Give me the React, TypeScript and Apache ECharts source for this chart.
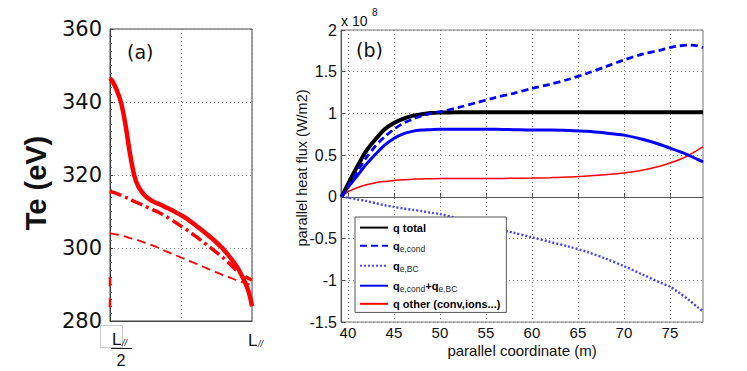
import React, { useEffect, useRef } from "react";
import * as echarts from "echarts";

// ---- Panel (a): Te along the field line (0 = L/2, 1 = L) ----
const xA = [0, 0.02, 0.05, 0.08, 0.11, 0.14, 0.17, 0.2, 0.25, 0.3, 0.35, 0.4, 0.45, 0.5, 0.55, 0.6, 0.65, 0.7, 0.75, 0.8, 0.85, 0.9, 0.94, 0.97, 0.99, 1.0];
const teSolid = [346.5, 345.5, 343, 339.5, 333.5, 326, 320, 316.8, 314.2, 312.8, 312, 311, 310.1, 309, 307.8, 306.3, 304.8, 303.2, 301.5, 299.6, 297.2, 294.5, 291.5, 288.8, 286, 284];
const teDashDot = [315.5, 315.3, 314.9, 314.4, 313.9, 313.4, 312.8, 312.3, 311.4, 310.5, 309.6, 308.5, 307.3, 306, 304.7, 303.3, 301.8, 300.3, 298.8, 297.2, 295.4, 293.6, 292.5, 291.8, 291.4, 291.2];
const teDashed = [304, 303.9, 303.7, 303.4, 303.1, 302.7, 302.4, 302.1, 301.4, 300.7, 299.9, 299, 298.2, 297.4, 296.6, 295.8, 295, 294.1, 293.3, 292.5, 291.8, 291, 290.5, 290.2, 289.9, 289.8];
const edgeX = [0, 0];
const edgeY = [292, 283];

// ---- Panel (b): parallel heat flux (x 1e8 W/m2) ----
const xB = [39.3, 40, 41, 42, 43, 44, 45, 46, 47, 48, 49, 50, 52, 54, 56, 58, 60, 62, 64, 66, 68, 70, 72, 74, 75, 76, 77, 78, 78.6];
const qTotal = [0, 0.15, 0.36, 0.55, 0.69, 0.81, 0.885, 0.935, 0.97, 0.99, 1.005, 1.01, 1.015, 1.015, 1.015, 1.015, 1.015, 1.015, 1.015, 1.015, 1.015, 1.015, 1.015, 1.015, 1.015, 1.015, 1.015, 1.015, 1.015];
const qeCond = [0, 0.12, 0.3, 0.47, 0.61, 0.72, 0.81, 0.88, 0.93, 0.97, 1.0, 1.02, 1.07, 1.13, 1.19, 1.24, 1.3, 1.35, 1.41, 1.48, 1.56, 1.64, 1.71, 1.76, 1.79, 1.81, 1.82, 1.81, 1.79];
const qeBC = [0, -0.01, -0.03, -0.05, -0.075, -0.1, -0.12, -0.14, -0.155, -0.17, -0.19, -0.205, -0.26, -0.315, -0.375, -0.43, -0.485, -0.54, -0.595, -0.66, -0.74, -0.83, -0.93, -1.03, -1.075, -1.15, -1.23, -1.32, -1.37];
const qSum = [0, 0.11, 0.25, 0.39, 0.51, 0.62, 0.7, 0.755, 0.785, 0.8, 0.805, 0.81, 0.81, 0.81, 0.81, 0.805, 0.8, 0.8, 0.795, 0.785, 0.765, 0.74, 0.69, 0.625, 0.585, 0.545, 0.5, 0.45, 0.42];
const qOther = [0, 0.06, 0.11, 0.145, 0.17, 0.185, 0.197, 0.205, 0.21, 0.215, 0.218, 0.22, 0.22, 0.22, 0.221, 0.222, 0.225, 0.23, 0.237, 0.25, 0.265, 0.285, 0.32, 0.37, 0.405, 0.445, 0.495, 0.56, 0.6];
const xTicksB = [40, 45, 50, 55, 60, 65, 70, 75];

const seriesNames = ["q total", "qe,cond", "qe,BC", "qe,cond+qe,BC", "q other (conv,ions...)"];
const legendRich: Record<string, string> = {
  "q total": "{b|q total}",
  "qe,cond": "{b|q}{s|e,cond}",
  "qe,BC": "{b|q}{s|e,BC}",
  "qe,cond+qe,BC": "{b|q}{s|e,cond}{b|+q}{s|e,BC}",
  "q other (conv,ions...)": "{b|q other (conv,ions...)}",
};

const FONT = "Liberation Sans, Arial, sans-serif";

function pairs(xs: number[], ys: number[]) {
  return xs.map((x, i) => [x, ys[i]]);
}

export default function App() {
  const ref = useRef<HTMLDivElement>(null);
  useEffect(() => {
    if (!ref.current) return;
    const chart = echarts.init(ref.current, null, { renderer: "svg" });
    const dotted = { type: [1, 3] as any, color: "#888", width: 1 };
    const option: any = {
      animation: false,
      backgroundColor: "#fff",
      grid: [
        { left: 110, top: 29, width: 142, height: 292, show: true, borderColor: "#444", borderWidth: 1, backgroundColor: "transparent" },
        { left: 341, top: 30, width: 362, height: 292, show: true, borderColor: "#777", borderWidth: 1, backgroundColor: "transparent" },
      ],
      xAxis: [
        {
          gridIndex: 0, type: "value", min: 0, max: 1, interval: 0.5,
          axisLine: { show: true, lineStyle: { color: "#444" } },
          axisTick: { show: false },
          axisLabel: { show: false },
          splitLine: { show: true, lineStyle: dotted },
        },
        {
          gridIndex: 1, type: "value", min: 39.25, max: 78.6,
          axisLine: { show: true, lineStyle: { color: "#555" } },
          axisTick: { show: true, inside: true, length: 4, customValues: xTicksB, lineStyle: { color: "#555" } },
          axisLabel: { show: true, customValues: xTicksB, fontSize: 15, lineHeight: 15, color: "#111", fontFamily: FONT, margin: 3 },
          splitLine: { show: true, lineStyle: dotted },
        },
      ],
      yAxis: [
        {
          gridIndex: 0, type: "value", min: 280, max: 360, interval: 20,
          axisLine: { show: true, lineStyle: { color: "#444" } },
          axisTick: { show: true, inside: true, length: 3, lineStyle: { color: "#444" } },
          minorTick: { show: true, splitNumber: 10, length: 2, lineStyle: { color: "#666" } },
          axisLabel: {
            show: true, margin: 8,
            formatter: "{t|{value}}",
            rich: { t: { fontSize: 21, color: "#111", fontFamily: "DejaVu Sans", lineHeight: 22 } },
          },
          splitLine: { show: true, lineStyle: dotted },
        },
        {
          gridIndex: 1, type: "value", min: -1.5, max: 2, interval: 0.5,
          axisLine: { show: true, lineStyle: { color: "#555" } },
          axisTick: { show: true, inside: true, length: 4, lineStyle: { color: "#555" } },
          axisLabel: { fontSize: 16, color: "#111", fontFamily: FONT, margin: 4, formatter: (v: number) => String(v) },
          splitLine: { show: true, lineStyle: dotted },
        },
      ],
      legend: {
        data: seriesNames,
        orient: "vertical",
        left: 355,
        top: 217,
        backgroundColor: "#fff",
        borderColor: "#555",
        borderWidth: 1,
        borderRadius: 0,
        padding: [5, 6, 3, 4],
        itemGap: 5,
        itemWidth: 28,
        itemHeight: 14,
        selectedMode: false,
        itemStyle: { opacity: 0 },
        formatter: (name: string) => legendRich[name] || name,
        textStyle: {
          fontFamily: FONT,
          color: "#000",
          rich: {
            b: { fontSize: 11, fontWeight: "bold", color: "#000", fontFamily: FONT, lineHeight: 15, verticalAlign: "middle" },
            s: { fontSize: 8.5, color: "#222", fontFamily: FONT, lineHeight: 15, verticalAlign: "bottom", padding: [6, 0, 0, 0] },
          },
        },
      },
      series: [
        { name: "Te solid", type: "line", xAxisIndex: 0, yAxisIndex: 0, data: pairs(xA, teSolid), smooth: 0.3, showSymbol: false, symbol: "none", lineStyle: { color: "#ff0000", width: 4.5 } },
        { name: "Te dashdot", type: "line", xAxisIndex: 0, yAxisIndex: 0, data: pairs(xA, teDashDot), smooth: 0.3, showSymbol: false, symbol: "none", lineStyle: { color: "#ff0000", width: 3.5, type: [12, 4, 3, 4] } },
        { name: "Te dashed", type: "line", xAxisIndex: 0, yAxisIndex: 0, data: pairs(xA, teDashed), smooth: 0.3, showSymbol: false, symbol: "none", lineStyle: { color: "#ff0000", width: 1.8, type: [9, 5] } },
        { name: "Te edge", type: "line", xAxisIndex: 0, yAxisIndex: 0, data: pairs(edgeX, edgeY), showSymbol: false, symbol: "none", clip: false, lineStyle: { color: "#ff0000", width: 2.5, type: [9, 12] } },

        { name: "q other (conv,ions...)", type: "line", xAxisIndex: 1, yAxisIndex: 1, data: pairs(xB, qOther), smooth: 0.3, symbol: "none", lineStyle: { color: "#ff0000", width: 1.5 }, itemStyle: { color: "#ff0000" }, z: 2 },
        { name: "qe,BC", type: "line", xAxisIndex: 1, yAxisIndex: 1, data: pairs(xB, qeBC), smooth: 0.3, symbol: "none", lineStyle: { color: "#4545ff", width: 2.4, type: [2, 2] }, itemStyle: { color: "#4545ff" }, z: 3 },
        { name: "qe,cond+qe,BC", type: "line", xAxisIndex: 1, yAxisIndex: 1, data: pairs(xB, qSum), smooth: 0.3, symbol: "none", lineStyle: { color: "#0000ff", width: 3 }, itemStyle: { color: "#0000ff" }, z: 4 },
        { name: "q total", type: "line", xAxisIndex: 1, yAxisIndex: 1, data: pairs(xB, qTotal), smooth: 0.3, symbol: "none", lineStyle: { color: "#000000", width: 4 }, itemStyle: { color: "#000" }, z: 5 },
        { name: "qe,cond", type: "line", xAxisIndex: 1, yAxisIndex: 1, data: pairs(xB, qeCond), smooth: 0.3, symbol: "none", lineStyle: { color: "#0000ff", width: 2.8, type: [7, 4] }, itemStyle: { color: "#0000ff" }, z: 6 },
      ],
      graphic: [
        { type: "text", left: 127, top: 42, style: { text: "(a)", fontSize: 19, fontFamily: "DejaVu Sans, sans-serif", fill: "#111" } },
        { type: "text", left: 356, top: 40, style: { text: "(b)", fontSize: 19, fontFamily: "DejaVu Sans, sans-serif", fill: "#111" } },
        { type: "text", x: 36, y: 183, rotation: Math.PI / 2, style: { text: "Te (eV)", fontSize: 29, fontWeight: "bold", fontFamily: FONT, fill: "#111", align: "center", verticalAlign: "middle" } },
        { type: "text", x: 302, y: 168, rotation: Math.PI / 2, style: { text: "parallel heat flux (W/m2)", fontSize: 14.5, fontFamily: FONT, fill: "#111", align: "center", verticalAlign: "middle" } },
        { type: "text", x: 522, y: 350, style: { text: "parallel coordinate (m)", fontSize: 15, fontFamily: FONT, fill: "#111", align: "center", verticalAlign: "middle" } },
        { type: "text", x: 341, y: 21, style: { text: "x 10", fontSize: 14, fontFamily: FONT, fill: "#111", align: "left", verticalAlign: "middle" } },
        { type: "text", x: 372, y: 12, style: { text: "8", fontSize: 10, fontFamily: FONT, fill: "#111", align: "left", verticalAlign: "middle" } },
        { type: "rect", shape: { x: 100.5, y: 325.5, width: 22, height: 22 }, style: { fill: "none", stroke: "#ccc", lineWidth: 1 } },
        { type: "text", x: 112, y: 339, style: { text: "L", fontSize: 17, fontFamily: FONT, fill: "#111", align: "left", verticalAlign: "middle" } },
        { type: "text", x: 122, y: 343, style: { text: "//", fontSize: 9, fontStyle: "italic", fontFamily: FONT, fill: "#111", align: "left", verticalAlign: "middle" } },
        { type: "line", shape: { x1: 111, y1: 348.5, x2: 132, y2: 348.5 }, style: { stroke: "#111", lineWidth: 1 } },
        { type: "text", x: 121, y: 360, style: { text: "2", fontSize: 16, fontFamily: FONT, fill: "#111", align: "center", verticalAlign: "middle" } },
        { type: "text", x: 248, y: 340, style: { text: "L", fontSize: 17, fontFamily: FONT, fill: "#111", align: "left", verticalAlign: "middle" } },
        { type: "text", x: 258, y: 344, style: { text: "//", fontSize: 9, fontStyle: "italic", fontFamily: FONT, fill: "#111", align: "left", verticalAlign: "middle" } },
      ],
    };
    chart.setOption(option);
    return () => chart.dispose();
  }, []);
  return <div ref={ref} style={{ position: "absolute", left: 0, top: 0, width: 747, height: 371 }} />;
}
